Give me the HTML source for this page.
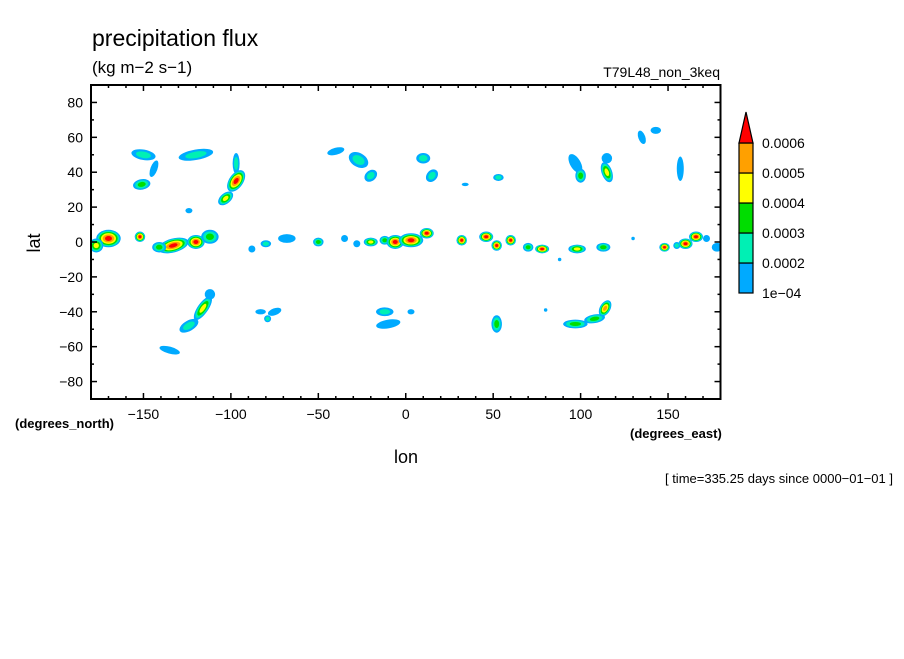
<!DOCTYPE html>
<html><head><meta charset="utf-8"><style>
body{margin:0;background:#fff;width:904px;height:654px;overflow:hidden}
svg text{font-family:"Liberation Sans",sans-serif;fill:#000}
</style></head><body>
<svg id="chart" width="904" height="654" viewBox="0 0 904 654" xmlns="http://www.w3.org/2000/svg">
<text x="92" y="46" font-size="23">precipitation flux</text>
<text x="92" y="73" font-size="17">(kg m−2 s−1)</text>
<text x="720" y="77" font-size="14" text-anchor="end">T79L48_non_3keq</text>
<g id="blobs"></g>
<g id="axes"></g>
<text x="40" y="243" font-size="18" text-anchor="middle" transform="rotate(-90 40 243)">lat</text>
<text x="15" y="428" font-size="13" font-weight="bold">(degrees_north)</text>
<text x="630" y="438" font-size="13" font-weight="bold">(degrees_east)</text>
<text x="406" y="463" font-size="18" text-anchor="middle">lon</text>
<text x="893" y="483" font-size="13" text-anchor="end">[ time=335.25 days since 0000−01−01 ]</text>
<g id="cbar"></g>
</svg>
<script>
const levelColors=["#00aaff","#00f0b4","#00dd00","#ffff00","#ffa000","#ff0000"];
const cbarLabels=["1e-04","0.0002","0.0003","0.0004","0.0005","0.0006"];
const xTickLabels=[-150,-100,-50,0,50,100,150];
const yTickLabels=[-80,-60,-40,-20,0,20,40,60,80];
// blobs: lon, lat, half-width (deg), half-height (deg), rotation (deg), peak level
const blobLon=[-170,-177,-152,-133,-141,-120,-112,-88,-80,-68,-50,-35,-28,-20,-12,-6,3,12,32,46,52,60,70,78,88,98,113,130,148,155,160,166,172,178,
 -150,-144,-151,-120,-97,-97,-103,-124,-40,-27,-20,10,15,53,34,97,100,115,115,135,143,157,
 -116,-124,-112,-135,-83,-75,-79,-10,-12,3,52,97,108,114,80];
const blobLat=[2,-2,3,-2,-3,0,3,-4,-1,2,0,2,-1,0,1,0,1,5,1,3,-2,1,-3,-4,-10,-4,-3,2,-3,-2,-1,3,2,-3,
 50,42,33,50,45,35,25,18,52,47,38,48,38,37,33,45,38,48,40,60,64,42,
 -38,-48,-30,-62,-40,-40,-44,-47,-40,-40,-47,-47,-44,-38,-39];
const blobRx=[7,4,3,9,4,5,5,2,3,5,3,2,2,4,3,5,7,4,3,4,3,3,3,4,1,5,4,1,3,2,4,4,2,3,
 7,2,5,10,2,4,5,2,5,6,3,4,3,3,2,3,3,3,3,2,3,2,
 3,6,3,6,3,4,2,7,5,2,3,7,6,3,1];
const blobRy=[5,4,3,4,3,4,4,2,2,2.5,2.5,2,2,2.5,2.5,4,4,3,3,3,3,3,2.5,2.5,1,2.5,2.5,1,2.5,2,3,3,2,2.5,
 3,5,3,3,6,7,3,1.5,2,4,4,3,4,2,1,6,4,3,6,4,2,7,
 8,3,3,2,1.5,2,2,2.5,2.5,1.5,5,2.5,2.5,5,1];
const blobRot=[0,0,0,-15,0,0,0,0,0,0,0,0,0,0,0,0,0,0,0,0,0,0,0,0,0,0,0,0,0,0,0,0,0,0,
 10,20,-10,-10,0,35,-40,0,-15,30,50,0,40,0,0,-30,0,0,-20,-20,0,0,
 35,-30,30,15,0,-20,0,-10,0,0,0,0,-10,30,0];
const blobLvl=[6,4,6,6,3,6,3,1,2,1,3,1,1,4,3,6,6,6,6,6,6,6,3,6,1,4,3,1,6,2,6,6,1,1,
 2,1,3,2,2,6,4,1,1,2,2,2,2,2,1,1,3,1,4,1,1,1,
 4,2,1,1,1,1,2,1,2,1,3,3,3,5,1];
const L=91,R=720.5,T=85,B=399;
const xs=lon=>L+(lon+180)/360*(R-L);
const ys=lat=>T+(90-lat)/180*(B-T);
const ns="http://www.w3.org/2000/svg";
function mk(tag,attrs,parent){const e=document.createElementNS(ns,tag);for(const k in attrs)e.setAttribute(k,attrs[k]);parent.appendChild(e);return e;}
const gb=document.getElementById('blobs');
const clip=mk('clipPath',{id:'pc'},document.getElementById('chart'));
mk('rect',{x:L,y:T,width:R-L,height:B-T},clip);
gb.setAttribute('clip-path','url(#pc)');
const px=(R-L)/360,py=(B-T)/180;
for(let i=0;i<blobLon.length;i++){
  const cx=xs(blobLon[i]),cy=ys(blobLat[i]),n=blobLvl[i];
  for(let k=1;k<=n;k++){
    const f=Math.pow((n-k+1)/n,0.7);
    const e=mk('ellipse',{cx:cx,cy:cy,rx:Math.max(1.2,blobRx[i]*px*f),ry:Math.max(1.2,blobRy[i]*py*f),fill:levelColors[k-1],transform:`rotate(${blobRot[i]} ${cx} ${cy})`},gb);
    
    
  }
}
const ga=document.getElementById('axes');
const fr=mk('rect',{x:L,y:T,width:R-L,height:B-T,fill:'none',stroke:'#000','stroke-width':2},ga);


for(let lon=-170;lon<=170;lon+=10){
  const maj=lon%50===0,len=maj?6:3,x=xs(lon);
  mk('line',{x1:x,x2:x,y1:B,y2:B-len,stroke:'#000','stroke-width':1.5},ga);
  mk('line',{x1:x,x2:x,y1:T,y2:T+len,stroke:'#000','stroke-width':1.5},ga);
}
xTickLabels.forEach(v=>{const t=mk('text',{x:xs(v),y:B+20,'font-size':14,'text-anchor':'middle'},ga);t.textContent=String(v).replace('-','−');
 
 });
for(let lat=-80;lat<=80;lat+=10){
  const maj=lat%20===0,len=maj?6:3,y=ys(lat);
  mk('line',{x1:L,x2:L+len,y1:y,y2:y,stroke:'#000','stroke-width':1.5},ga);
  mk('line',{x1:R,x2:R-len,y1:y,y2:y,stroke:'#000','stroke-width':1.5},ga);
}
yTickLabels.forEach(v=>{const t=mk('text',{x:L-8,y:ys(v)+5,'font-size':14,'text-anchor':'end'},ga);t.textContent=String(v).replace('-','−');
 
 });
const gc=document.getElementById('cbar');
const cx0=739,cw=14,ctop=143,ch=30;
for(let k=0;k<5;k++){
  const r=mk('rect',{x:cx0,y:ctop+(4-k)*ch,width:cw,height:ch,fill:levelColors[k],stroke:'#000','stroke-width':1.2},gc);
  
  
}
const tri=mk('polygon',{points:`${cx0},${ctop} ${cx0+cw},${ctop} ${cx0+cw/2},${ctop-31}`,fill:levelColors[5],stroke:'#000','stroke-width':1.2},gc);


cbarLabels.forEach((s,k)=>{const t=mk('text',{x:762,y:ctop+(5-k)*ch+5,'font-size':14},gc);t.textContent=s.replace('-','−');
 
 });
</script>
</body></html>
